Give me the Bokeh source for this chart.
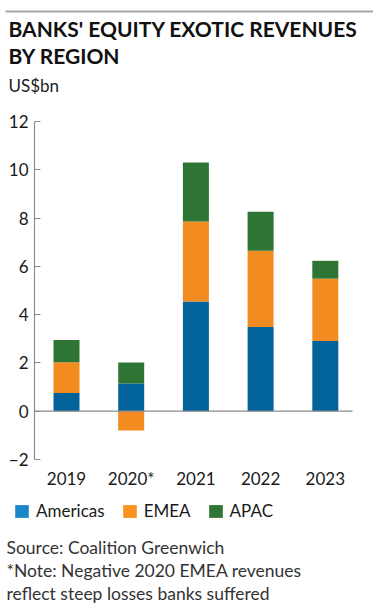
from bokeh.plotting import figure
from bokeh.models import (Legend, LegendItem, Label, BoxAnnotation, LinearAxis,
                          ColumnDataSource, FixedTicker, Range1d)
from bokeh.embed import file_html
from bokeh.resources import INLINE

# ---- data ----
years = ["2019", "2020*", "2021", "2022", "2023"]
americas = [0.75, 1.15, 4.54, 3.49, 2.91]
emea = [1.28, -0.80, 3.32, 3.16, 2.58]
apac = [0.92, 0.87, 2.44, 1.61, 0.74]
series_names = ["Americas", "EMEA", "APAC"]
y_ticks = [-2, 0, 2, 4, 6, 8, 10, 12]
y_lo, y_hi = -2, 12

bar_colors = ["#02639b", "#f28b20", "#2e7535"]
legend_colors = ["#1b86c8", "#f7931e", "#2e7533"]
FONT = "Lato"

# ---- layout geometry (pixels) ----
W, H = 373, 616
PLOT_TOP, PLOT_BOTTOM = 121, 459      # pixel rows of y_hi and y_lo
FIRST_X, STEP_X = 66, 64.7            # pixel centre of first bar, bar spacing
AXIS_X, ZERO_END_X = 34, 352          # y-axis line, end of zero line
BAR_W = 26

ppu_y = (PLOT_BOTTOM - PLOT_TOP) / (y_hi - y_lo)
y_start = y_lo - (H - PLOT_BOTTOM) / ppu_y
y_end = y_hi + PLOT_TOP / ppu_y
x_start = -FIRST_X / STEP_X
x_end = x_start + W / STEP_X
px2x = lambda px: x_start + px / STEP_X

xs = list(range(len(years)))

p = figure(width=W, height=H, x_range=Range1d(x_start, x_end),
           y_range=Range1d(y_start, y_end), output_backend="svg",
           toolbar_location=None, min_border=0,
           x_axis_type=None, y_axis_type=None)
p.outline_line_color = None
p.xgrid.grid_line_color = None
p.ygrid.grid_line_color = None

# stacked bars: positives stack up from zero, negatives down from zero
series = [americas, emea, apac]
pos_base = [0.0] * len(years)
neg_base = [0.0] * len(years)
for vals, col in zip(series, bar_colors):
    bottoms, tops = [], []
    for i, v in enumerate(vals):
        if v >= 0:
            bottoms.append(pos_base[i]); tops.append(pos_base[i] + v)
            pos_base[i] += v
        else:
            bottoms.append(neg_base[i]); tops.append(neg_base[i] + v)
            neg_base[i] += v
    src = ColumnDataSource(dict(x=xs, bottom=bottoms, top=tops))
    p.vbar(x="x", bottom="bottom", top="top", width=BAR_W / STEP_X, source=src,
           fill_color=col, line_color=None)

# zero line
p.segment(x0=[px2x(AXIS_X)], y0=[0], x1=[px2x(ZERO_END_X)], y1=[0],
          line_color="#8c8c8c", line_width=1.2)

# y axis (fixed inside the canvas, limited to the value range)
ya = LinearAxis(ticker=FixedTicker(ticks=y_ticks), fixed_location=px2x(AXIS_X),
                bounds=(y_lo, y_hi))
ya.axis_line_color = "#8c8c8c"
ya.axis_line_width = 1.2
ya.major_tick_line_color = "#8c8c8c"
ya.major_tick_in = 6
ya.major_tick_out = 0
ya.minor_tick_line_color = None
ya.major_label_standoff = 6
ya.major_label_text_font = FONT
ya.major_label_text_font_size = "17px"
ya.major_label_text_color = "#1a1a1a"
p.add_layout(ya, "left")

# x axis: category labels under the -2 level
xa = LinearAxis(ticker=FixedTicker(ticks=xs), fixed_location=y_lo,
                major_label_overrides={i: y for i, y in zip(xs, years)})
xa.axis_line_color = None
xa.major_tick_line_color = None
xa.minor_tick_line_color = None
xa.major_label_standoff = 2
xa.major_label_text_font = FONT
xa.major_label_text_font_size = "17px"
xa.major_label_text_color = "#1a1a1a"
p.add_layout(xa, "below")

# top grey rule
p.add_layout(BoxAnnotation(left=5, right=W, bottom=H - 12, top=H - 10,
                           left_units="screen", right_units="screen",
                           bottom_units="screen", top_units="screen",
                           fill_color="#a6a6a6", fill_alpha=1, line_color=None))


def label(txt, x, baseline_px, size, bold=False, color="#1a1a1a"):
    p.add_layout(Label(x=x, y=H - baseline_px, x_units="screen", y_units="screen",
                       text=txt, text_font=FONT, text_font_size=size,
                       text_font_style="bold" if bold else "normal",
                       text_color=color, text_baseline="alphabetic",
                       text_align="left"))


label("BANKS' EQUITY EXOTIC REVENUES", 8, 28, "21px", bold=True, color="#111111")
label("BY REGION", 8, 55.3, "21px", bold=True, color="#111111")
label("US$bn", 8, 85, "17px")
label("Source: Coalition Greenwich", 6, 547, "17.5px", color="#333333")
label("*Note: Negative 2020 EMEA revenues", 6, 569.5, "17.5px", color="#333333")
label("reflect steep losses banks suffered", 6, 593, "17.5px", color="#333333")

# legend with its own (lighter) swatches, driven by zero-height bars
items = []
for name, col in zip(series_names, legend_colors):
    r = p.vbar(x=[xs[0]], bottom=[0], top=[0], width=0.1,
               fill_color=col, line_color=None)
    items.append(LegendItem(label=name, renderers=[r]))
legend = Legend(items=items, orientation="horizontal", location=(13, H - 521),
                glyph_width=17, glyph_height=16, label_standoff=6, spacing=16,
                padding=0, margin=0, border_line_color=None,
                background_fill_alpha=0,
                label_text_font=FONT, label_text_font_size="17px",
                label_text_color="#1a1a1a")
p.add_layout(legend, "center")

open("out.html", "w").write(file_html(p, INLINE))
